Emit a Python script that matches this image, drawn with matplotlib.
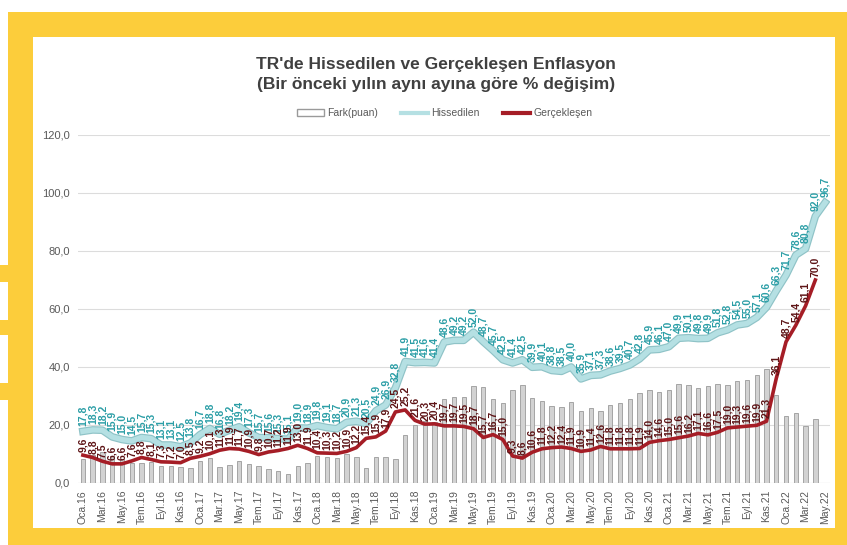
import matplotlib.pyplot as plt
from matplotlib.patches import Rectangle, Patch
from matplotlib.lines import Line2D

plt.rcParams['font.family'] = ['Liberation Sans', 'DejaVu Sans']

months = ['Oca', 'Şub', 'Mar', 'Nis', 'May', 'Haz', 'Tem', 'Ağu', 'Eyl', 'Eki', 'Kas', 'Ara']
periods = [f'{m}.{y}' for y in range(16, 23) for m in months][:77]

# perceived inflation (Hissedilen), Oca.16 - May.22
hissedilen = [17.8, 18.3, 18.2, 15.9, 15.0, 14.5, 15.7, 15.3, 13.1, 13.1, 12.5, 13.8,
              16.7, 18.8, 16.8, 18.2, 19.4, 17.3, 15.7, 15.6, 15.3, 15.1, 19.0, 18.9,
              19.8, 19.1, 18.7, 20.9, 21.3, 20.5, 24.9, 26.9, 32.8, 41.9, 41.5, 41.6,
              41.4, 48.6, 49.2, 49.2, 52.0, 48.7, 45.7, 42.5, 41.4, 42.5, 39.9, 40.1,
              38.8, 38.5, 40.0, 35.9, 37.1, 37.3, 38.6, 39.5, 40.7, 42.8, 45.9, 46.1,
              47.0, 49.9, 50.1, 49.8, 49.9, 51.8, 52.8, 54.5, 55.0, 57.1, 60.6, 66.3,
              71.7, 78.6, 80.8, 92.0, 96.7]

# actual inflation (Gerçekleşen), Oca.16 - Nis.22
gerceklesen = [9.6, 8.8, 7.5, 6.6, 6.6, 7.6, 8.8, 8.1, 7.3, 7.2, 7.0, 8.5,
               9.2, 10.1, 11.3, 11.9, 11.7, 10.9, 9.8, 10.7, 11.2, 11.9, 13.0, 11.9,
               10.4, 10.3, 10.2, 10.9, 12.2, 15.4, 15.9, 17.9, 24.5, 25.2, 21.6, 20.3,
               20.4, 19.7, 19.7, 19.5, 18.7, 15.7, 16.7, 15.0, 9.3, 8.6, 10.6, 11.8,
               12.2, 12.4, 11.9, 10.9, 11.4, 12.6, 11.8, 11.8, 11.8, 11.9, 14.0, 14.6,
               15.0, 15.6, 16.2, 17.1, 16.6, 17.5, 19.0, 19.3, 19.6, 19.9, 21.3, 36.1,
               48.7, 54.4, 61.1, 70.0]

fark = [h - g for h, g in zip(hissedilen, gerceklesen)]

YELLOW = '#fccd3b'
BLUE = '#b5e0e3'
BLUE_EDGE = '#8fc3c7'
BLUE_TXT = '#2b9ea6'
RED = '#a51d26'
RED_TXT = '#5e1416'
GREY_TXT = '#595959'

fig = plt.figure(figsize=(8.47, 5.45), dpi=100, facecolor='white')
# yellow frame and white panel
fig.patches.append(Rectangle((8 / 847, 0), 1, 1 - 12 / 545, transform=fig.transFigure,
                             facecolor=YELLOW, edgecolor='none', zorder=-3))
for y0, y1 in [(265, 282), (320, 335), (383, 400)]:
    fig.patches.append(Rectangle((0, 1 - y1 / 545), 8 / 847, (y1 - y0) / 545,
                                 transform=fig.transFigure, facecolor=YELLOW,
                                 edgecolor='none', zorder=-3))
fig.patches.append(Rectangle((33 / 847, 1 - 528 / 545), 802 / 847, 491 / 545,
                             transform=fig.transFigure, facecolor='white',
                             edgecolor='none', zorder=-2))

ax = fig.add_axes([78 / 847, 1 - 483 / 545, 752 / 847, 348 / 545])
ax.set_facecolor('none')

x = list(range(len(periods)))
xg = x[:len(gerceklesen)]

ax.bar(xg, fark, width=0.45, color='#d2d2d2', edgecolor='#9a9a9a', linewidth=0.6, zorder=2)
ax.plot(x, hissedilen, color=BLUE_EDGE, lw=5.5, solid_joinstyle='round', zorder=3)
ax.plot(x, hissedilen, color=BLUE, lw=3.8, solid_joinstyle='round', zorder=3)
ax.plot(xg, gerceklesen, color=RED, lw=2.6, solid_joinstyle='round', zorder=4)

for i, v in enumerate(hissedilen):
    ax.annotate(f'{v:.1f}'.replace('.', ','), (i, v), xytext=(0, 4),
                textcoords='offset points', rotation=90, ha='center', va='bottom',
                fontsize=7.5, fontweight='bold', color=BLUE_TXT, zorder=5)
for i, v in enumerate(gerceklesen):
    ax.annotate(f'{v:.1f}'.replace('.', ','), (i, v), xytext=(0, 2.5),
                textcoords='offset points', rotation=90, ha='center', va='bottom',
                fontsize=7.5, fontweight='bold', color=RED_TXT, zorder=6)

ax.set_xlim(-0.5, len(periods) - 0.5)
ax.set_ylim(0, 120)
ax.set_yticks(range(0, 121, 20))
ax.set_yticklabels([f'{t:.1f}'.replace('.', ',') for t in range(0, 121, 20)],
                   fontsize=8, color=GREY_TXT)
ax.set_xticks(x[::2])
ax.set_xticklabels(periods[::2], rotation=90, fontsize=7.5, color=GREY_TXT)
ax.tick_params(length=0, pad=6)
ax.tick_params(axis='x', pad=5)
ax.grid(axis='y', color='#dcdcdc', lw=0.8, zorder=0)
ax.set_axisbelow(True)
for s in ax.spines.values():
    s.set_visible(False)
ax.axhline(0, color='#cfcfcf', lw=0.8, zorder=1)

fig.text(0.515, 0.864, "TR'de Hissedilen ve Gerçekleşen Enflasyon\n(Bir önceki yılın aynı ayına göre % değişim)",
         ha='center', va='center', fontsize=12.5, fontweight='bold', color='#404040',
         linespacing=1.4)

handles = [Patch(facecolor='white', edgecolor='#9a9a9a'),
           Line2D([], [], color=BLUE, lw=3),
           Line2D([], [], color=RED, lw=3)]
fig.legend(handles, ['Fark(puan)', 'Hissedilen', 'Gerçekleşen'], loc='center',
           bbox_to_anchor=(0.525, 0.792), ncol=3, frameon=False, fontsize=7.5,
           labelcolor=GREY_TXT, handlelength=2.6, handletextpad=0.3, columnspacing=2.2)

fig.savefig('out.png', dpi=100)
